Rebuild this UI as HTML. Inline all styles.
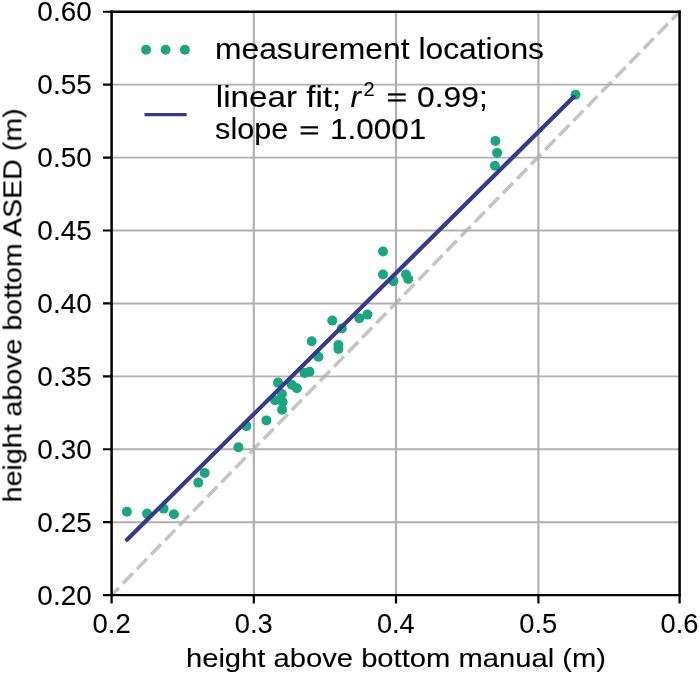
<!DOCTYPE html><html><head><meta charset="utf-8"><style>html,body{margin:0;padding:0;background:#fff;width:700px;height:674px;overflow:hidden}svg{display:block}</style></head><body>
<svg width="700" height="674" viewBox="0 0 700 674">
<rect width="700" height="674" fill="#fff"/>
<line x1="111.6" y1="595.1" x2="679.6" y2="11.75" stroke="#c4c4c4" stroke-width="3.5" stroke-dasharray="14.4 5.78" stroke-dashoffset="4.07"/>
<path d="M253.8 11.75V595.1M396.0 11.75V595.1M538.4 11.75V595.1" stroke="#b0b0b0" stroke-width="2.15" fill="none"/>
<path d="M111.6 522.18H679.6M111.6 449.26H679.6M111.6 376.34H679.6M111.6 303.43H679.6M111.6 230.51H679.6M111.6 157.59H679.6M111.6 84.67H679.6" stroke="#b0b0b0" stroke-width="1.9" fill="none"/>
<g fill="#1ca580">
<circle cx="126.9" cy="511.7" r="5.0"/>
<circle cx="147.1" cy="513.6" r="5.0"/>
<circle cx="163.6" cy="508.6" r="5.0"/>
<circle cx="173.9" cy="514.3" r="5.0"/>
<circle cx="198.3" cy="482.6" r="5.0"/>
<circle cx="204.7" cy="472.9" r="5.0"/>
<circle cx="238.4" cy="447.3" r="5.0"/>
<circle cx="246.4" cy="426.1" r="5.0"/>
<circle cx="266.4" cy="420.4" r="5.0"/>
<circle cx="282.1" cy="409.8" r="5.0"/>
<circle cx="278" cy="382.6" r="5.0"/>
<circle cx="291.7" cy="384.8" r="5.0"/>
<circle cx="296.9" cy="388.2" r="5.0"/>
<circle cx="275" cy="400.2" r="5.0"/>
<circle cx="282.6" cy="402" r="5.0"/>
<circle cx="282" cy="394" r="5.0"/>
<circle cx="304.5" cy="372.9" r="5.0"/>
<circle cx="309.5" cy="371.8" r="5.0"/>
<circle cx="318.4" cy="356.8" r="5.0"/>
<circle cx="311.7" cy="341.2" r="5.0"/>
<circle cx="332.3" cy="320.6" r="5.0"/>
<circle cx="341.8" cy="328.4" r="5.0"/>
<circle cx="338.4" cy="345.1" r="5.0"/>
<circle cx="338.4" cy="349" r="5.0"/>
<circle cx="359.3" cy="318.3" r="5.0"/>
<circle cx="367.4" cy="314.6" r="5.0"/>
<circle cx="383" cy="251.5" r="5.0"/>
<circle cx="383" cy="274.5" r="5.0"/>
<circle cx="393.4" cy="281.2" r="5.0"/>
<circle cx="406" cy="274.5" r="5.0"/>
<circle cx="408.2" cy="279" r="5.0"/>
<circle cx="495.4" cy="140.9" r="5.0"/>
<circle cx="497.1" cy="152.9" r="5.0"/>
<circle cx="494.9" cy="165.7" r="5.0"/>
<circle cx="575.5" cy="94.7" r="5.0"/>
</g>
<line x1="127.0" y1="539.8" x2="573.6" y2="96.9" stroke="#36398c" stroke-width="4.2" stroke-linecap="round"/>
<path d="M111.6 10.60V596.25M679.6 10.60V596.25" stroke="#000" stroke-width="2.5" fill="none"/>
<path d="M110.35 11.75H680.85M110.35 595.1H680.85" stroke="#000" stroke-width="2.3" fill="none"/>
<path d="M111.6 595.1V603.40M253.8 595.1V603.40M396.0 595.1V603.40M538.4 595.1V603.40M679.6 595.1V603.40M111.6 595.10H103.00M111.6 522.18H103.00M111.6 449.26H103.00M111.6 376.34H103.00M111.6 303.43H103.00M111.6 230.51H103.00M111.6 157.59H103.00M111.6 84.67H103.00M111.6 11.75H103.00" stroke="#000" stroke-width="2.2" fill="none"/>
<g fill="#1ca580">
<circle cx="146.1" cy="49.8" r="5.0"/>
<circle cx="165.6" cy="49.8" r="5.0"/>
<circle cx="184.9" cy="49.8" r="5.0"/>
</g>
<line x1="144.5" y1="114.6" x2="186.7" y2="114.6" stroke="#36398c" stroke-width="3.4"/>
<g fill="#000">
<rect x="388" y="93.35" width="17.75" height="2.2"/><rect x="388" y="99.35" width="17.75" height="2.2"/>
<rect x="300.6" y="126.25" width="17.5" height="2.2"/><rect x="300.6" y="132.3" width="17.5" height="2.2"/>
</g>
<filter id="gs"><feColorMatrix type="saturate" values="0"/></filter>
<g font-family="'Liberation Sans', sans-serif" fill="#000" stroke="#000" stroke-width="0.1" filter="url(#gs)">
<text x="37.38" y="604.50" font-size="27.3" textLength="54.29" lengthAdjust="spacingAndGlyphs">0.20</text>
<text x="37.38" y="531.58" font-size="27.3" textLength="54.29" lengthAdjust="spacingAndGlyphs">0.25</text>
<text x="37.38" y="458.66" font-size="27.3" textLength="54.29" lengthAdjust="spacingAndGlyphs">0.30</text>
<text x="37.38" y="385.74" font-size="27.3" textLength="54.29" lengthAdjust="spacingAndGlyphs">0.35</text>
<text x="37.38" y="312.82" font-size="27.3" textLength="54.29" lengthAdjust="spacingAndGlyphs">0.40</text>
<text x="37.38" y="239.91" font-size="27.3" textLength="54.29" lengthAdjust="spacingAndGlyphs">0.45</text>
<text x="37.38" y="166.99" font-size="27.3" textLength="54.29" lengthAdjust="spacingAndGlyphs">0.50</text>
<text x="37.38" y="94.07" font-size="27.3" textLength="54.29" lengthAdjust="spacingAndGlyphs">0.55</text>
<text x="37.38" y="21.15" font-size="27.3" textLength="54.29" lengthAdjust="spacingAndGlyphs">0.60</text>
<text x="92.51" y="632.60" font-size="27.8" textLength="38.18" lengthAdjust="spacingAndGlyphs">0.2</text>
<text x="234.72" y="632.60" font-size="27.8" textLength="37.91" lengthAdjust="spacingAndGlyphs">0.3</text>
<text x="376.93" y="632.60" font-size="27.8" textLength="37.66" lengthAdjust="spacingAndGlyphs">0.4</text>
<text x="519.32" y="632.60" font-size="27.8" textLength="37.91" lengthAdjust="spacingAndGlyphs">0.5</text>
<text x="660.52" y="632.60" font-size="27.8" textLength="37.91" lengthAdjust="spacingAndGlyphs">0.6</text>
<text x="185.95" y="666.70" font-size="26.2" textLength="420.04" lengthAdjust="spacingAndGlyphs">height above bottom manual (m)</text>
<text x="214.96" y="59.00" font-size="29.8" textLength="329.07" lengthAdjust="spacingAndGlyphs">measurement locations</text>
<text x="215.87" y="106.50" font-size="29.8" textLength="125.35" lengthAdjust="spacingAndGlyphs">linear fit;</text>
<text x="350.49" y="106.50" font-size="30.4" font-style="italic" textLength="10.37" lengthAdjust="spacingAndGlyphs">r</text>
<text x="363.50" y="95.50" font-size="20.0" textLength="11.12" lengthAdjust="spacingAndGlyphs">2</text>
<text x="417.06" y="106.50" font-size="29.8" textLength="70.84" lengthAdjust="spacingAndGlyphs">0.99;</text>
<text x="215.13" y="138.80" font-size="29.8" textLength="73.24" lengthAdjust="spacingAndGlyphs">slope</text>
<text x="330.13" y="138.80" font-size="29.8" textLength="96.09" lengthAdjust="spacingAndGlyphs">1.0001</text>
<text transform="translate(21.4 502.40) rotate(-90)" font-size="26.4" textLength="394.07" lengthAdjust="spacingAndGlyphs">height above bottom ASED (m)</text>
</g>
</svg>
</body></html>
